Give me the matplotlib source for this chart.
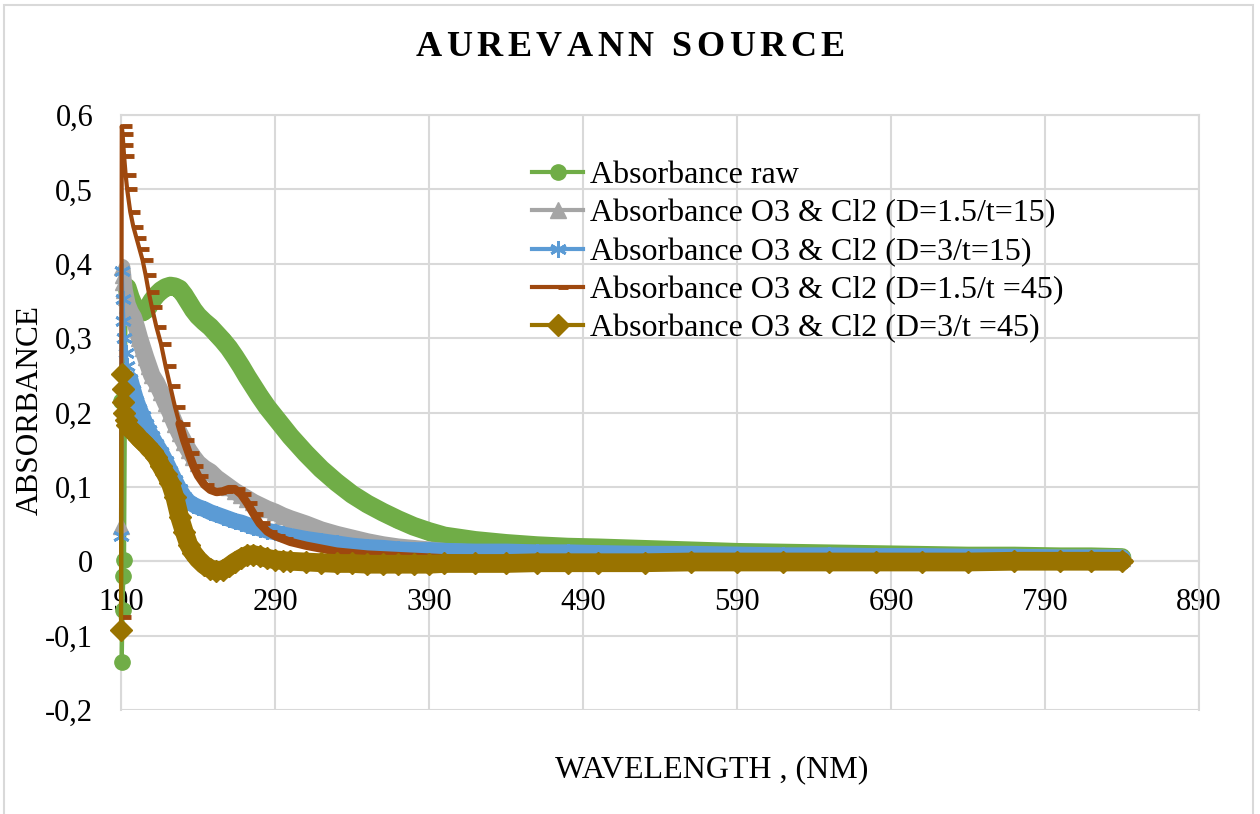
import numpy as np
import matplotlib
matplotlib.use("Agg")
import matplotlib.pyplot as plt
from matplotlib.patches import Rectangle
from matplotlib.path import Path
from matplotlib.ticker import FuncFormatter

plt.rcParams["font.family"] = ["Liberation Serif", "DejaVu Serif"]

# Wavelength (nm) of every point
WAVELENGTH = [190, 190.5, 191, 191.5, 192, 193, 194, 196, 198, 200,
              202, 204, 206, 208, 210, 213, 216, 219, 222, 225,
              228, 231, 234, 237, 240, 244, 248, 252, 256, 260,
              264, 268, 272, 276, 280, 285, 290, 295, 300, 310,
              320, 330, 340, 350, 360, 370, 380, 390, 400, 420,
              440, 460, 480, 500, 530, 560, 590, 620, 650, 680,
              710, 740, 770, 800, 820, 840]

RAW = [0.215, -0.135, -0.065, -0.02, 0.002, 0.365, 0.368, 0.355, 0.345, 0.338,
       0.335, 0.335, 0.338, 0.343, 0.35, 0.358, 0.364, 0.368, 0.37, 0.369,
       0.366, 0.358, 0.348, 0.338, 0.33, 0.322, 0.315, 0.306, 0.297, 0.287,
       0.275, 0.262, 0.248, 0.235, 0.222, 0.207, 0.194, 0.181, 0.168, 0.145,
       0.124, 0.106, 0.09, 0.077, 0.066, 0.056, 0.047, 0.04, 0.034, 0.028,
       0.024, 0.021, 0.019, 0.018, 0.016, 0.014, 0.012, 0.011, 0.01, 0.009,
       0.008, 0.007, 0.007, 0.006, 0.006, 0.005]

D15_T15 = [0.047, 0.395, 0.385, 0.375, 0.365, 0.355, 0.345, 0.335, 0.328, 0.315,
           0.3, 0.287, 0.274, 0.262, 0.25, 0.24, 0.227, 0.213, 0.2, 0.185,
           0.172, 0.16, 0.149, 0.14, 0.132, 0.125, 0.12, 0.112, 0.106, 0.1,
           0.094, 0.089, 0.084, 0.079, 0.075, 0.07, 0.066, 0.061, 0.057, 0.05,
           0.042, 0.036, 0.031, 0.026, 0.022, 0.019, 0.017, 0.015, 0.013, 0.011,
           0.01, 0.009, 0.008, 0.008, 0.007, 0.007, 0.006, 0.006, 0.006, 0.005,
           0.005, 0.005, 0.005, 0.004, 0.004, 0.004]

D3_T15 = [0.034, 0.39, 0.353, 0.323, 0.3, 0.28, 0.262, 0.245, 0.23, 0.216,
          0.205, 0.195, 0.185, 0.176, 0.168, 0.157, 0.147, 0.135, 0.122, 0.109,
          0.097, 0.087, 0.08, 0.076, 0.073, 0.07, 0.066, 0.063, 0.06, 0.057,
          0.054, 0.052, 0.049, 0.046, 0.044, 0.041, 0.039, 0.036, 0.034, 0.03,
          0.027, 0.024, 0.021, 0.019, 0.018, 0.016, 0.015, 0.015, 0.014, 0.013,
          0.013, 0.012, 0.012, 0.011, 0.01, 0.01, 0.009, 0.008, 0.008, 0.007,
          0.007, 0.006, 0.006, 0.005, 0.005, 0.005]

D15_T45 = [-0.075, 0.585, 0.575, 0.56, 0.545, 0.52, 0.5, 0.47, 0.45, 0.435,
           0.42, 0.405, 0.385, 0.362, 0.342, 0.315, 0.292, 0.262, 0.235, 0.208,
           0.185, 0.163, 0.145, 0.128, 0.115, 0.103, 0.096, 0.093, 0.094, 0.097,
           0.097, 0.09, 0.078, 0.064, 0.051, 0.04, 0.034, 0.03, 0.026, 0.021,
           0.017, 0.013, 0.011, 0.009, 0.008, 0.007, 0.006, 0.005, 0.004, 0.003,
           0.003, 0.002, 0.002, 0.002, 0.002, 0.001, 0.001, 0.001, 0.001, 0.001,
           0.001, 0.001, 0.001, 0.001, 0.001, 0.001]

D3_T45 = [-0.092, 0.252, 0.232, 0.214, 0.2, 0.19, 0.183, 0.178, 0.174, 0.17,
          0.165, 0.161, 0.157, 0.152, 0.148, 0.14, 0.128, 0.117, 0.105, 0.086,
          0.06, 0.04, 0.022, 0.011, 0.003, -0.005, -0.01, -0.013, -0.012, -0.007,
          -0.001, 0.004, 0.008, 0.009, 0.007, 0.004, 0.002, 0.001, 0.0, -0.001,
          -0.002, -0.003, -0.003, -0.004, -0.004, -0.004, -0.004, -0.004, -0.003, -0.003,
          -0.003, -0.002, -0.002, -0.002, -0.002, -0.001, -0.001, -0.001, -0.001, -0.001,
          -0.001, -0.001, 0.0, 0.0, 0.0, 0.0]

LABELS = ["Absorbance raw",
          "Absorbance O3 & Cl2 (D=1.5/t=15)",
          "Absorbance O3 & Cl2 (D=3/t=15)",
          "Absorbance O3 & Cl2 (D=1.5/t =45)",
          "Absorbance O3 & Cl2 (D=3/t =45)"]

X_TICKS = [190, 290, 390, 490, 590, 690, 790, 890]
Y_TICKS = [-0.2, -0.1, 0, 0.1, 0.2, 0.3, 0.4, 0.5, 0.6]

GRID = "#D9D9D9"

# Excel's dash marker sits on the right of the point
DASH = Path([(0, 0), (1, 0)])

# colour, marker, marker size, marker edge width, band width, band starts at
STYLES = [
    ("#70AD47", "o", 11.0, 1.0, 13.5, 193),
    ("#A5A5A5", "^", 11.0, 1.0, 12.5, 190.5),
    ("#5B9BD5", (6, 2, 0), 12.0, 2.0, 11.5, 196),
    ("#9E480E", DASH, 14.0, 3.5, 6.0, 228),
    ("#997300", "D", 11.0, 1.0, 13.5, 193),
]


def add_series(ax, values, label, style, z):
    """
    Draws one absorbance series: a thick band where the Excel markers
    overlap and the thin line with markers on top of it.
    """
    color, marker, ms, mew, band, band_from = style
    x = np.array(WAVELENGTH, dtype=float)
    y = np.array(values, dtype=float)

    keep = x >= band_from
    ax.plot(x[keep], y[keep], color=color, lw=band, solid_capstyle="round",
            solid_joinstyle="round", zorder=z)
    ax.plot(x, y, color=color, lw=3.0, marker=marker, ms=ms, mew=mew,
            mfc=color, mec=color, label=label, zorder=z, clip_on=False)


def comma(v, pos):
    if abs(v) < 1e-9:
        return "0"
    return ("%.1f" % v).replace(".", ",")


def spaced_title(fig, text, y, size, gap_px):
    """
    Excel draws the chart title with extra letter spacing, so the
    characters are placed one by one.
    """
    renderer = fig.canvas.get_renderer()
    widths = []
    for ch in text:
        if ch == " ":
            widths.append(0.25 * size * fig.dpi / 72.0)
            continue
        t = fig.text(0, 0, ch, fontsize=size, fontweight="bold")
        widths.append(t.get_window_extent(renderer).width)
        t.remove()

    total = sum(widths) + gap_px * (len(text) - 1)
    x = (fig.get_figwidth() * fig.dpi - total) / 2.0
    for ch, w in zip(text, widths):
        if ch != " ":
            fig.text(x / (fig.get_figwidth() * fig.dpi), y, ch, fontsize=size,
                     fontweight="bold", va="center", ha="left")
        x += w + gap_px


def main():
    fig = plt.figure(figsize=(12.6, 8.14), dpi=100)
    fig.patches.append(Rectangle((4 / 1260, -0.05), 1249 / 1260, 1.05 - 5 / 814,
                                 transform=fig.transFigure, fill=False,
                                 edgecolor=GRID, lw=1.5))

    ax = fig.add_axes([121 / 1260, 1 - 710 / 814, 1078 / 1260, 595 / 814])

    for i, (values, label) in enumerate(zip([RAW, D15_T15, D3_T15, D15_T45, D3_T45], LABELS)):
        add_series(ax, values, label, STYLES[i], 3 + i)

    ax.set_xlim(190, 890)
    ax.set_ylim(-0.2, 0.6)
    ax.set_xticks(X_TICKS)
    ax.set_yticks(Y_TICKS)
    ax.yaxis.set_major_formatter(FuncFormatter(comma))
    ax.grid(True, color=GRID, lw=1.5, zorder=0)
    ax.set_axisbelow(True)

    for side in ["left", "right", "top", "bottom"]:
        ax.spines[side].set_color(GRID)
        ax.spines[side].set_linewidth(1.5)
    ax.spines["bottom"].set_position(("data", 0))

    ax.tick_params(axis="both", length=0, labelsize=22)
    ax.tick_params(axis="x", pad=19)
    ax.tick_params(axis="y", pad=20)

    spaced_title(fig, "AUREVANN SOURCE", 1 - 47 / 814, 26, 4.5)
    fig.text(30 / 1260, 1 - 410 / 814, "ABSORBANCE", rotation=90,
             ha="center", va="center", fontsize=22.5)
    fig.text(712 / 1260, 1 - 770 / 814, "WAVELENGTH , (NM)",
             ha="center", va="center", fontsize=23)

    ax.legend(loc="upper left", bbox_to_anchor=(532 / 1260, 1 - 161 / 814),
              bbox_transform=fig.transFigure, frameon=False, fontsize=23,
              borderpad=0, borderaxespad=0, handlelength=1.6,
              handletextpad=0.2, labelspacing=0.28)

    fig.savefig("out.png", dpi=100)
    return 0


if __name__ == "__main__":
    main()
